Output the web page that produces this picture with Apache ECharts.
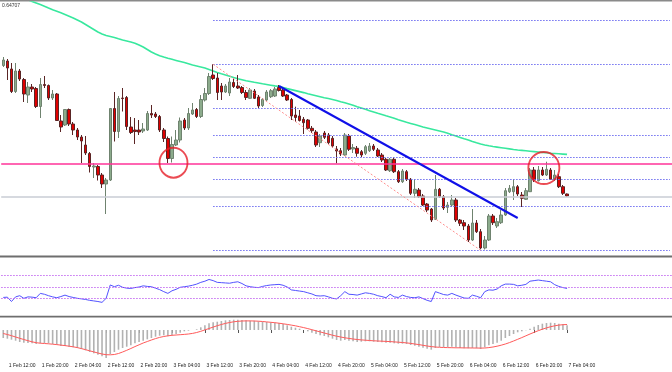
<!DOCTYPE html>
<html><head><meta charset="utf-8">
<script src="https://cdn.jsdelivr.net/npm/echarts@6/dist/echarts.min.js"></script>
<style>html,body{margin:0;padding:0;background:#fff}#c{width:672px;height:372px}</style>
</head><body><div id="c"></div>
<script>
// ---- data (H1 bars starting 1 Feb 11:00) ----
const barCount = 138;
const slotCount = 163; // bars + empty right shift
const timeLabels = ["1 Feb 12:00","1 Feb 20:00","2 Feb 04:00","2 Feb 12:00","2 Feb 20:00","3 Feb 04:00","3 Feb 12:00","3 Feb 20:00","4 Feb 04:00","4 Feb 12:00","4 Feb 20:00","5 Feb 04:00","5 Feb 12:00","5 Feb 20:00","6 Feb 04:00","6 Feb 12:00","6 Feb 20:00","7 Feb 04:00"];
const topPriceLabel = "0.64707";

const openP = [0.64072,0.64117,0.64037,0.63812,0.64017,0.63932,0.63777,0.63857,0.63842,0.63662,0.63882,0.63872,0.63747,0.63787,0.63517,0.63477,0.63632,0.63487,0.63427,0.63357,
0.63277,0.63192,0.63057,0.63062,0.62977,0.62887,0.62927,0.63642,0.63412,0.63747,0.63752,0.63457,0.63427,0.63427,0.63417,0.63427,0.63592,0.63587,0.63562,0.63427,
0.63342,0.63142,0.63277,0.63327,0.63527,0.63447,0.63587,0.63632,0.63562,0.63727,0.63792,0.63977,0.63947,0.63867,0.63807,0.63797,0.63902,0.63867,0.63852,0.63802,
0.63744,0.63817,0.63757,0.63672,0.63727,0.63760,0.63767,0.63852,0.63827,0.63777,0.63732,0.63577,0.63567,0.63534,0.63527,0.63444,0.63407,0.63300,0.63397,0.63377,
0.63344,0.63237,0.63220,0.63177,0.63367,0.63237,0.63244,0.63210,0.63194,0.63220,0.63267,0.63227,0.63177,0.63134,0.63020,0.63134,0.63010,0.62910,0.63010,0.62934,
0.62794,0.62827,0.62767,0.62687,0.62637,0.62534,0.62834,0.62760,0.62654,0.62677,0.62727,0.62527,0.62500,0.62467,0.62327,0.62497,0.62410,0.62247,0.62327,0.62567,
0.62467,0.62500,0.62577,0.62810,0.62810,0.62860,0.62777,0.62734,0.62810,0.63027,0.62920,0.63027,0.62977,0.63027,0.62937,0.62960,0.62860,0.62787];
const highP = [0.64157,0.64137,0.64097,0.64097,0.64037,0.63947,0.63907,0.63887,0.63857,0.63947,0.63967,0.63882,0.63827,0.63797,0.63577,0.63637,0.63642,0.63507,0.63447,0.63377,
0.63367,0.63207,0.63097,0.63077,0.62997,0.62947,0.63647,0.63807,0.63767,0.63847,0.63767,0.63557,0.63547,0.63527,0.63497,0.63617,0.63677,0.63607,0.63577,0.63447,
0.63362,0.63362,0.63427,0.63552,0.63547,0.63647,0.63697,0.63647,0.63777,0.63847,0.63997,0.64084,0.63997,0.63897,0.63887,0.63947,0.63947,0.63977,0.63867,0.63827,
0.63847,0.63837,0.63777,0.63747,0.63827,0.63837,0.63857,0.63877,0.63847,0.63787,0.63747,0.63660,0.63627,0.63557,0.63537,0.63467,0.63427,0.63387,0.63417,0.63397,
0.63367,0.63267,0.63247,0.63397,0.63387,0.63287,0.63267,0.63227,0.63277,0.63297,0.63287,0.63247,0.63197,0.63147,0.63147,0.63157,0.63027,0.63037,0.63027,0.62947,
0.62937,0.62847,0.62787,0.62697,0.62647,0.62977,0.62847,0.62777,0.62707,0.62777,0.62747,0.62537,0.62527,0.62487,0.62637,0.62527,0.62437,0.62367,0.62587,0.62587,
0.62547,0.62627,0.62847,0.62877,0.62937,0.62877,0.62807,0.62847,0.63047,0.63057,0.63067,0.63057,0.63110,0.63047,0.63027,0.62987,0.62877,0.62792];
const lowP = [0.64057,0.63927,0.63797,0.63797,0.63917,0.63707,0.63697,0.63807,0.63647,0.63547,0.63847,0.63727,0.63727,0.63517,0.63407,0.63467,0.63467,0.63377,0.63327,0.63097,
0.63177,0.63002,0.62947,0.62922,0.62847,0.62587,0.62917,0.63312,0.63347,0.63612,0.63427,0.63387,0.63287,0.63377,0.63397,0.63417,0.63547,0.63547,0.63407,0.63307,
0.63097,0.63102,0.63267,0.63302,0.63427,0.63427,0.63577,0.63547,0.63547,0.63712,0.63777,0.63927,0.63727,0.63727,0.63797,0.63767,0.63847,0.63837,0.63787,0.63727,
0.63737,0.63737,0.63647,0.63657,0.63717,0.63747,0.63757,0.63812,0.63757,0.63717,0.63527,0.63507,0.63512,0.63387,0.63432,0.63397,0.63257,0.63257,0.63337,0.63287,
0.63247,0.63094,0.63167,0.63167,0.63217,0.63197,0.63160,0.63157,0.63177,0.63207,0.63217,0.63157,0.63107,0.63017,0.63007,0.62997,0.62897,0.62897,0.62917,0.62777,
0.62747,0.62747,0.62667,0.62607,0.62507,0.62527,0.62747,0.62627,0.62597,0.62657,0.62507,0.62467,0.62427,0.62307,0.62317,0.62397,0.62234,0.62232,0.62317,0.62477,
0.62447,0.62487,0.62567,0.62797,0.62727,0.62767,0.62657,0.62727,0.62807,0.62907,0.62912,0.62967,0.62967,0.62927,0.62917,0.62847,0.62777,0.62757];
const closeP = [0.64127,0.64047,0.63812,0.64017,0.63937,0.63787,0.63857,0.63837,0.63662,0.63882,0.63872,0.63747,0.63787,0.63522,0.63457,0.63632,0.63487,0.63427,0.63357,0.63317,
0.63197,0.63062,0.63067,0.62977,0.62887,0.62927,0.63642,0.63412,0.63742,0.63742,0.63462,0.63402,0.63412,0.63407,0.63437,0.63592,0.63577,0.63562,0.63427,0.63342,
0.63142,0.63282,0.63327,0.63517,0.63447,0.63592,0.63627,0.63562,0.63732,0.63792,0.63962,0.63942,0.63802,0.63807,0.63867,0.63907,0.63862,0.63847,0.63802,0.63752,
0.63827,0.63744,0.63667,0.63734,0.63807,0.63820,0.63837,0.63822,0.63767,0.63727,0.63567,0.63552,0.63522,0.63500,0.63444,0.63420,0.63277,0.63367,0.63354,0.63300,
0.63267,0.63217,0.63187,0.63377,0.63234,0.63252,0.63194,0.63177,0.63260,0.63267,0.63234,0.63167,0.63127,0.63027,0.63134,0.63010,0.62910,0.63017,0.62934,0.62794,
0.62834,0.62760,0.62677,0.62627,0.62527,0.62834,0.62760,0.62647,0.62677,0.62727,0.62527,0.62494,0.62467,0.62327,0.62497,0.62410,0.62247,0.62327,0.62567,0.62500,
0.62510,0.62577,0.62820,0.62844,0.62860,0.62787,0.62744,0.62820,0.63027,0.62927,0.63027,0.62977,0.63034,0.62934,0.62977,0.62860,0.62794,0.62767];
const maLine = [0.64827,0.64812,0.64795,0.64777,0.64760,0.64745,0.64729,0.64713,0.64697,0.64681,0.64665,0.64647,0.64630,0.64615,0.64599,0.64582,0.64565,0.64547,0.64527,0.64507,
0.64482,0.64457,0.64432,0.64407,0.64387,0.64372,0.64362,0.64352,0.64339,0.64327,0.64317,0.64307,0.64295,0.64277,0.64257,0.64232,0.64207,0.64187,0.64170,0.64157,
0.64145,0.64134,0.64123,0.64112,0.64101,0.64089,0.64077,0.64067,0.64057,0.64047,0.64032,0.64017,0.64002,0.63989,0.63977,0.63964,0.63951,0.63939,0.63930,0.63920,
0.63912,0.63904,0.63897,0.63889,0.63882,0.63875,0.63868,0.63862,0.63852,0.63841,0.63831,0.63821,0.63811,0.63801,0.63790,0.63780,0.63770,0.63760,0.63750,0.63742,
0.63732,0.63722,0.63710,0.63699,0.63687,0.63674,0.63660,0.63647,0.63634,0.63620,0.63607,0.63594,0.63582,0.63569,0.63557,0.63544,0.63530,0.63517,0.63504,0.63493,
0.63482,0.63470,0.63457,0.63447,0.63437,0.63427,0.63417,0.63407,0.63394,0.63380,0.63367,0.63353,0.63339,0.63327,0.63312,0.63299,0.63287,0.63277,0.63269,0.63262,
0.63256,0.63250,0.63244,0.63238,0.63232,0.63227,0.63223,0.63219,0.63215,0.63211,0.63207,0.63203,0.63199,0.63195,0.63192,0.63189,0.63186,0.63183];
const rsi = [32,32.5,25,33,35,30.5,33,32.5,31.5,39,37.5,35,33,31.5,33.5,36,33.5,32,30.5,29.5,
28.5,27,26,25,23.5,30.5,53.5,50.5,53,49.5,48,47.5,49,50,52,51,50.5,48,45.5,42,
39,43.5,46,49.5,50.5,51.5,53,55,58,60,63,61,58,57.5,57,56.5,58,59,56,52,
50.5,49.5,49,51,52.5,53.5,54,54.5,53,50,45,44,43,42,40,38,35,34.5,35,33,
30.5,29.5,35,42,37.5,37,36,38,40,39,37.5,35,33.5,31.5,37.5,33,32,36,33.5,32,
31.5,33,30,27,25,42,39.5,37,36,39,36,33.5,31,30.5,36,34,31.5,42,45,44.5,
46.5,52,55,55,54.5,52,53,54.5,60,61,62,61,60,59,54,51,49,47.5];
const rsiLevels = [70, 50, 30];
const macdMain = [-8,-8.7,-9.7,-10.7,-12,-12.7,-13,-13.3,-14,-13.3,-13,-13.3,-14,-14.7,-16,-16,-16.7,-17.3,-18,-19,
-20.3,-22,-23.3,-24.7,-26.3,-28,-24,-22,-19.7,-18,-16.7,-15.3,-13.3,-12,-10.7,-9.3,-8,-6.7,-5.7,-5.3,
-6.3,-5.3,-4,-2.7,-1.3,-0.7,0,0.7,2.7,4.7,6.7,7.7,8.3,9,9.7,10,10.3,10.3,10,9.7,
9.3,9.3,8.7,8.3,8,7.7,7.3,7,6,4.7,3.3,2.3,1.3,0,-1.3,-2.7,-4,-5.3,-6,-7.3,
-8.7,-10,-10.7,-10,-10.7,-11.3,-12,-11.7,-11.3,-11.3,-11.7,-12,-12.3,-12.7,-12.7,-13.3,-13.7,-13.7,-14,-15,
-15.7,-16.7,-17.7,-18.7,-19.7,-18,-17,-17,-17,-16.7,-17.3,-18,-18.3,-18.3,-18,-18.3,-19,-17.3,-15.3,-14,
-12.7,-10.7,-8,-6,-4,-2.3,-1.3,-0.3,1.3,3.3,5,6.3,7,7.3,7,6.3,5.7,4.7];
const macdSignal = [-3.5,-4.5,-5.7,-7,-8.3,-9.5,-10.7,-11.8,-12.7,-13.2,-13.5,-13.8,-14.2,-14.6,-15.1,-15.6,-16.2,-16.8,-17.6,-18.6,
-19.7,-20.8,-21.9,-23,-24,-24.7,-24.8,-24.5,-23.5,-22,-20.3,-18.5,-16.6,-14.8,-13,-11.5,-10,-8.6,-7.4,-6.5,
-5.8,-5.3,-5,-4.7,-4.4,-4,-3.4,-2.5,-1.3,0.1,1.5,2.9,4.3,5.5,6.6,7.5,8.2,8.7,9,9.1,
9.1,9,8.8,8.5,8.1,7.7,7.3,6.8,6.2,5.6,4.9,4.2,3.3,2.4,1.4,0.3,-0.8,-1.9,-3,-4.1,
-5.2,-6.2,-7,-7.8,-8.4,-9,-9.5,-9.9,-10.2,-10.5,-10.8,-11,-11.2,-11.4,-11.6,-11.9,-12.2,-12.5,-12.9,-13.4,
-14,-14.6,-15.3,-16,-16.6,-17,-17.3,-17.5,-17.6,-17.7,-17.8,-17.8,-17.9,-17.9,-18,-18,-18.1,-18,-17.6,-17,
-16.2,-15.2,-14,-12.6,-11,-9.3,-7.6,-5.8,-4,-2.3,-0.7,0.8,2.1,3.3,4.2,4.9,5.3,5.5];

// horizontal levels, fib anchors, trendline and circled zones (bar index, price)
const pinkLevel = 0.63090;
const grayLevel = 0.62757;
const fibHigh = {bar: 51, price: 0.64084};
const fibLow = {bar: 116, price: 0.62224};
const fibRatios = [0, 0.236, 0.382, 0.5, 0.618, 0.764, 1, 1.236];
const trendLine = [[67, 0.63867], [125, 0.62547]];
const circleMarks = [[41, 0.63100], [131, 0.63047]];

// ---- build ----
const months = ['Jan','Feb','Mar'];
const categories = [];
const t0 = Date.UTC(2017, 1, 1, 11);
for (let i = 0; i < slotCount; i++) {
  const d = new Date(t0 + i * 3600e3);
  categories.push(d.getUTCDate() + ' ' + months[d.getUTCMonth()] + ' ' + String(d.getUTCHours()).padStart(2, '0') + ':00');
}
const candles = [];
for (let i = 0; i < barCount; i++) candles.push([openP[i], closeP[i], lowP[i], highP[i]]);

const fibLines = fibRatios.map(r => {
  const v = fibLow.price + r * (fibHigh.price - fibLow.price);
  return [{coord: [fibHigh.bar, v]}, {coord: [slotCount - 1, v]}];
});

const chart = echarts.init(document.getElementById('c'), null, {renderer: 'canvas'});
const W = slotCount * 4.13;
const gridLeft = 1.2;
const gridRight = 672 - gridLeft - W;
const lblFont = 'Liberation Sans, Arial, sans-serif';

function xAx(gi, showLabels) {
  return {
    type: 'category', gridIndex: gi, data: categories, boundaryGap: true,
    axisLine: {show: false},
    axisTick: showLabels ? {show: true, alignWithLabel: true, length: 3, lineStyle: {color: '#555'},
      interval: (idx, v) => timeLabels.includes(v)} : {show: false},
    axisLabel: showLabels ? {show: true, interval: (idx, v) => timeLabels.includes(v), align: 'left',
      color: '#222', fontSize: 5, fontFamily: lblFont, margin: 3, padding: [0, 0, 0, 1.5]} : {show: false},
    splitLine: {show: false}
  };
}
function yAx(gi, min, max) {
  return {type: 'value', gridIndex: gi, min, max, show: false, splitLine: {show: false}};
}

const dot = (color) => ({color, width: 1, type: [1.5, 1.5]});

chart.setOption({
  animation: false,
  backgroundColor: '#ffffff',
  grid: [
    {left: gridLeft, right: gridRight, top: 2, height: 253},
    {left: gridLeft, right: gridRight, top: 258, height: 58},
    {left: gridLeft, right: gridRight, top: 318, height: 42}
  ],
  xAxis: [xAx(0, false), xAx(1, false), xAx(2, true)],
  yAxis: [yAx(0, 0.62177, 0.64707), yAx(1, 0, 100), yAx(2, -30, 12)],
  series: [
    {
      type: 'line', xAxisIndex: 0, yAxisIndex: 0, data: maLine, showSymbol: false, clip: true,
      lineStyle: {color: '#38e89e', width: 1.6}, z: 2, silent: true,
      markLine: {
        silent: true, symbol: ['none', 'none'], label: {show: false}, animation: false, precision: 6,
        data: [
          {yAxis: pinkLevel, lineStyle: {color: '#ff3399', width: 1.6, type: 'solid'}},
          {yAxis: grayLevel, lineStyle: {color: '#c9cdd4', width: 1.6, type: 'solid'}}
        ]
      }
    },
    {
      type: 'candlestick', xAxisIndex: 0, yAxisIndex: 0, data: candles, barWidth: 3, z: 3,
      itemStyle: {color: '#8cab8c', color0: '#e00000', borderColor: '#6f836f', borderColor0: '#5a2525', borderWidth: 1},
      markLine: {
        silent: true, symbol: ['none', 'none'], label: {show: false}, animation: false, precision: 6,
        data: [
          ...fibLines.map(l => [Object.assign({lineStyle: dot('#6f6ff0')}, l[0]), l[1]]),
          [{coord: [fibHigh.bar, fibHigh.price], lineStyle: {color: '#ff8f8f', width: 1, type: [2, 2]}}, {coord: [fibLow.bar, fibLow.price]}],
          [{coord: trendLine[0], lineStyle: {color: '#1010e8', width: 2, type: 'solid'}}, {coord: trendLine[1]}]
        ]
      }
    },
    {
      type: 'scatter', xAxisIndex: 0, yAxisIndex: 0, data: circleMarks, symbol: 'circle',
      symbolSize: (v, p) => p.dataIndex === 0 ? [28, 30] : [31, 32],
      symbolOffset: [1.5, 0],
      itemStyle: {color: 'rgba(0,0,0,0)', borderColor: '#e61e28', borderWidth: 1.9}, z: 5, silent: true
    },
    {
      type: 'line', xAxisIndex: 1, yAxisIndex: 1, data: rsi, showSymbol: false,
      lineStyle: {color: '#5252ff', width: 1}, z: 3, silent: true,
      markLine: {silent: true, symbol: ['none', 'none'], label: {show: false}, precision: 6,
        data: rsiLevels.map(v => ({yAxis: v, lineStyle: dot('#c46cf0')}))}
    },
    {
      type: 'bar', xAxisIndex: 2, yAxisIndex: 2, data: macdMain, barWidth: 1.6,
      itemStyle: {color: '#b2b2b2'}, silent: true, z: 2
    },
    {
      type: 'line', xAxisIndex: 2, yAxisIndex: 2, data: macdSignal, showSymbol: false,
      lineStyle: {color: '#ff5a5a', width: 1}, z: 3, silent: true
    }
  ],
  graphic: [
    {type: 'rect', shape: {x: 0, y: 0, width: 672, height: 1.5}, style: {fill: '#8a8a8a'}, silent: true},
    {type: 'rect', shape: {x: 0, y: 255.6, width: 672, height: 2}, style: {fill: '#6e6e6e'}, silent: true},
    {type: 'rect', shape: {x: 0, y: 315.8, width: 672, height: 1.8}, style: {fill: '#6e6e6e'}, silent: true},
    {type: 'text', left: 2, top: 3, style: {text: topPriceLabel, fill: '#333', fontSize: 5, fontFamily: lblFont}, silent: true}
  ]
});
</script>
</body></html>
